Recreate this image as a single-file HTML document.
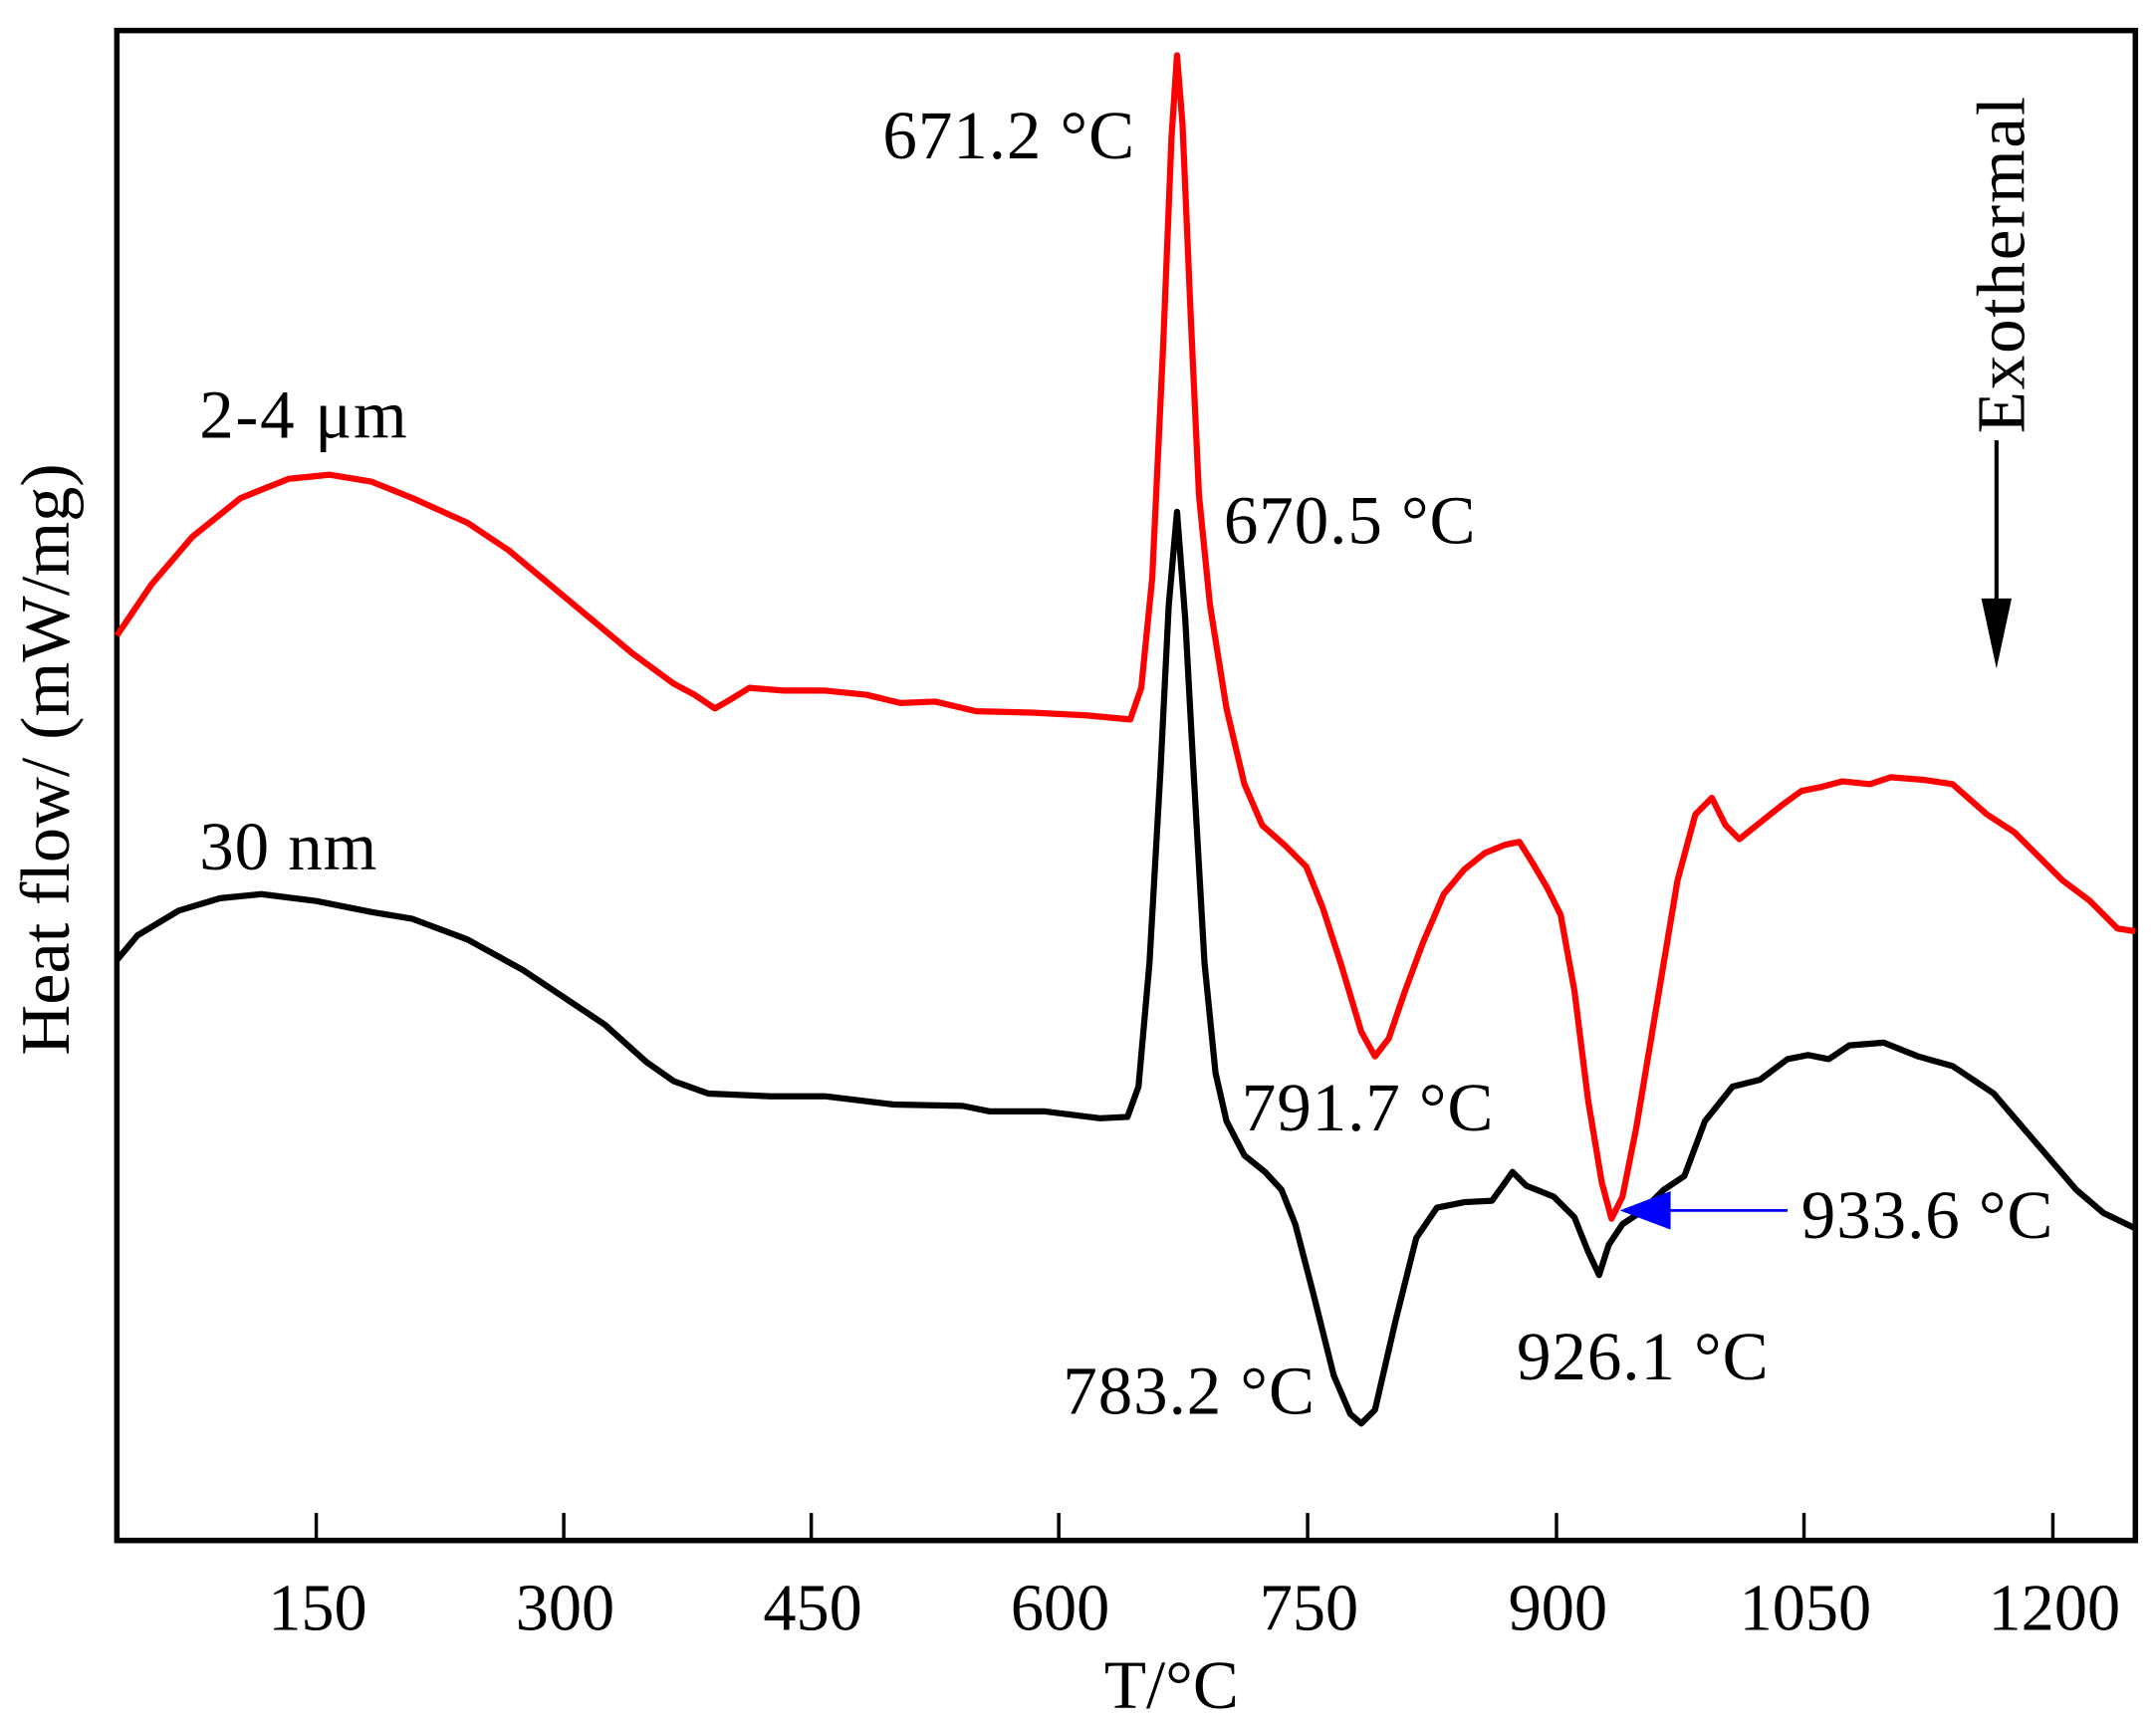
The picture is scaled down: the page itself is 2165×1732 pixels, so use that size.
<!DOCTYPE html>
<html><head><meta charset="utf-8"><style>html,body{margin:0;padding:0;background:#fff}svg{display:block}</style></head>
<body>
<svg width="2165" height="1732" viewBox="0 0 1568 1254" xmlns="http://www.w3.org/2000/svg" font-family="'Liberation Serif', serif">
<rect x="0" y="0" width="1568" height="1254" fill="#fff"/>
<rect x="85" y="22" width="1468" height="1098" fill="none" stroke="#000" stroke-width="4"/>
<g stroke="#000" stroke-width="2.5">
<line x1="230" y1="1120" x2="230" y2="1100"/><line x1="410" y1="1120" x2="410" y2="1100"/>
<line x1="590" y1="1120" x2="590" y2="1100"/><line x1="770" y1="1120" x2="770" y2="1100"/>
<line x1="951" y1="1120" x2="951" y2="1100"/><line x1="1132" y1="1120" x2="1132" y2="1100"/>
<line x1="1312" y1="1120" x2="1312" y2="1100"/><line x1="1493" y1="1120" x2="1493" y2="1100"/>
</g>
<g font-size="48" text-anchor="middle" fill="#000">
<text x="231" y="1185">150</text><text x="411" y="1185">300</text><text x="591" y="1185">450</text>
<text x="771" y="1185">600</text><text x="952" y="1185">750</text><text x="1133" y="1185">900</text>
<text x="1313" y="1185">1050</text><text x="1494" y="1185">1200</text>
<text x="852" y="1242" font-size="50">T/°C</text>
<text transform="translate(50,552) rotate(-90)" font-size="51">Heat flow/ (mW/mg)</text>
</g>
<polyline fill="none" stroke="#f00" stroke-width="4.5" stroke-linejoin="round" points="85,462 110,425 140,390 175,362 210,348 240,345 270,350 300,362 340,380 370,400 400,425 430,450 460,475 490,497 505,505 520,515 532,508 545,500 570,502 600,502 630,505 655,511 680,510 710,517 750,518 790,520 822,523 830,500 838,420 846,250 852,100 856,40 860,90 866,230 872,360 880,440 892,515 905,570 918,600 935,615 950,630 962,660 975,700 990,750 1000,768 1010,755 1022,720 1035,685 1050,650 1065,632 1080,620 1095,614 1105,612 1115,628 1125,645 1135,665 1145,720 1155,800 1165,860 1172,886 1180,870 1190,820 1205,730 1220,640 1233,592 1245,580 1255,600 1265,610 1280,598 1295,586 1310,575 1325,572 1340,568 1360,570 1375,565 1400,567 1420,570 1445,592 1465,605 1480,620 1500,640 1520,655 1540,675 1553,677"/>
<polyline fill="none" stroke="#000" stroke-width="4.5" stroke-linejoin="round" points="85,698 100,680 130,662 160,653 190,650 230,655 270,663 300,668 340,683 380,705 410,725 440,745 470,772 490,786 515,795 560,797 600,797 650,803 700,804 720,808 760,808 800,813 820,812 828,790 836,700 844,560 850,440 856,372 862,450 868,560 876,700 884,780 892,815 905,840 920,852 932,865 942,890 955,940 970,1000 982,1028 990,1035 1000,1025 1015,960 1030,900 1045,878 1065,874 1085,873 1093,862 1100,852 1110,862 1130,870 1145,885 1155,910 1163,927 1170,905 1180,890 1195,880 1210,865 1225,855 1240,815 1260,790 1280,785 1300,770 1315,767 1330,770 1345,760 1370,758 1395,768 1420,775 1450,795 1480,830 1510,865 1530,882 1553,893"/>
<g font-size="50" fill="#000">
<text x="642" y="115" textLength="183">671.2 °C</text>
<text x="145" y="318" textLength="151">2-4 μm</text>
<text x="890" y="395" textLength="183">670.5 °C</text>
<text x="145" y="632" textLength="129">30 nm</text>
<text x="903" y="822" textLength="183">791.7 °C</text>
<text x="1310" y="900" textLength="183">933.6 °C</text>
<text x="773" y="1028" textLength="183">783.2 °C</text>
<text x="1103" y="1003" textLength="183">926.1 °C</text>
<text transform="translate(1472,315) rotate(-90)" textLength="245">Exothermal</text>
</g>
<line x1="1300" y1="880" x2="1210" y2="880" stroke="#00f" stroke-width="2"/>
<polygon points="1178,880 1215,866 1215,894" fill="#00f"/>
<line x1="1452" y1="320" x2="1452" y2="440" stroke="#000" stroke-width="3"/>
<polygon points="1452,486 1441,435 1463,435" fill="#000"/>
</svg>
</body></html>
